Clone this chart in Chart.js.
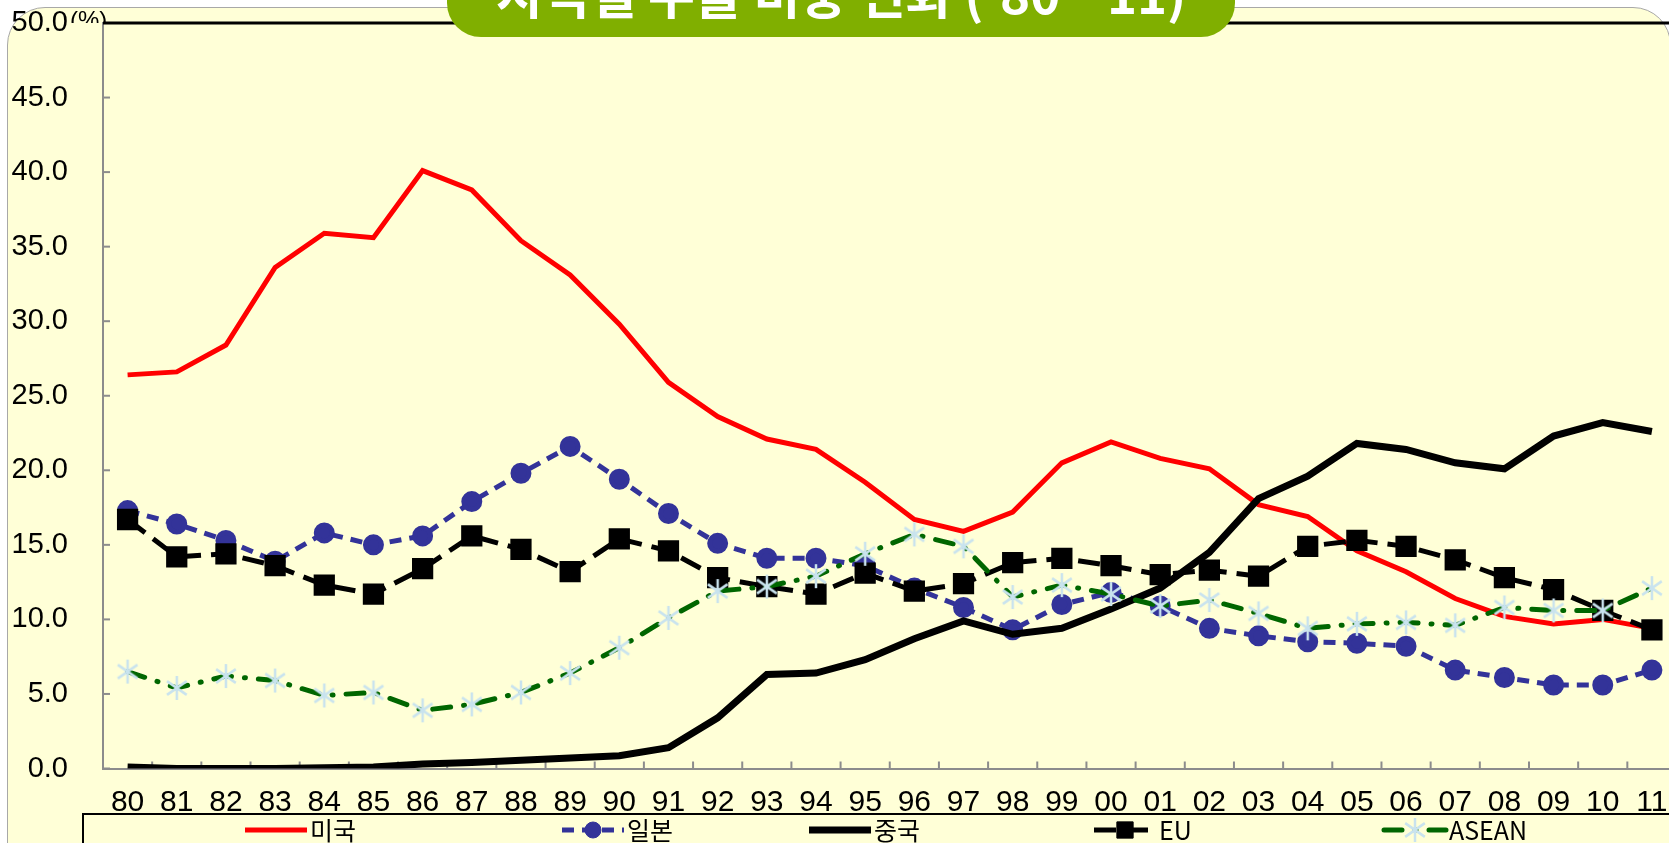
<!DOCTYPE html>
<html>
<head>
<meta charset="utf-8">
<script src="https://cdn.jsdelivr.net/npm/chart.js@4.4.1/dist/chart.umd.min.js"></script>
<style>
  html, body { margin: 0; padding: 0; background: #ffffff; width: 1669px; height: 843px; overflow: hidden; }
  #frame { position: absolute; left: 7px; top: 7px; width: 1664px; height: 900px; background: #FFFFD7;
           border: 1px solid #a8a8a8; border-radius: 38px; box-sizing: border-box; }
  #wrap { position: absolute; left: 0; top: 0; width: 1700px; height: 843px; }
  #badge { position: absolute; left: 447px; top: -60px; width: 788px; height: 97px; background: #80AF00;
           border-radius: 34px; overflow: hidden; }
  #badge span { position: absolute; left: 0; right: 0; top: 22px; text-align: center; color: #ffffff;
                font: bold 51px "Noto Sans CJK KR", sans-serif; line-height: 60px; white-space: nowrap; }
</style>
</head>
<body>
<div id="frame"></div>
<div id="wrap"><canvas id="exportChart" width="1700" height="843"></canvas></div>
<div id="badge"><span>지역별 수출 비중 변화 (‘80~‘11)</span></div>
<script>
// 지역별 수출 비중 (%), 1980 - 2011
const years = ['80','81','82','83','84','85','86','87','88','89','90','91','92','93','94','95',
               '96','97','98','99','00','01','02','03','04','05','06','07','08','09','10','11'];
const usa    = [26.4,26.6,28.4,33.6,35.9,35.6,40.1,38.8,35.4,33.1,29.8,25.9,23.6,22.1,21.4,19.2,
                16.7,15.9,17.2,20.5,21.9,20.8,20.1,17.7,16.9,14.6,13.2,11.4,10.2,9.7,10.0,9.4];
const japan  = [17.3,16.4,15.3,13.9,15.8,15.0,15.6,17.9,19.8,21.6,19.4,17.1,15.1,14.1,14.1,13.6,
                12.1,10.8,9.3,11.0,11.8,10.9,9.4,8.9,8.5,8.4,8.2,6.6,6.1,5.6,5.6,6.6];
const china  = [0.1,0.0,0.0,0.0,0.05,0.1,0.3,0.4,0.55,0.7,0.85,1.4,3.4,6.3,6.4,7.3,
                8.7,9.9,9.0,9.4,10.7,12.1,14.5,18.1,19.6,21.8,21.4,20.5,20.1,22.3,23.2,22.6];
const eu     = [16.7,14.2,14.4,13.6,12.3,11.7,13.4,15.6,14.7,13.2,15.4,14.6,12.8,12.2,11.7,13.1,
                11.9,12.4,13.8,14.1,13.6,13.0,13.3,12.9,14.9,15.3,14.9,14.0,12.8,12.0,10.6,9.3];
const asean  = [6.5,5.4,6.2,5.9,4.9,5.1,3.9,4.3,5.1,6.4,8.1,10.1,11.9,12.2,12.9,14.4,
                15.7,14.9,11.5,12.3,11.7,10.9,11.3,10.4,9.4,9.7,9.8,9.6,10.8,10.6,10.6,12.1];
const seriesNames = ['미국', '일본', '중국', 'EU', 'ASEAN'];
const yTicks = [0, 5, 10, 15, 20, 25, 30, 35, 40, 45, 50];

// asterisk marker like the spreadsheet one
function makeStar() {
  const c = document.createElement('canvas');
  c.width = 26; c.height = 26;
  const g = c.getContext('2d');
  g.strokeStyle = '#C9E3EE';
  g.lineWidth = 2.5;
  g.translate(13, 13);
  [0, 55, -55].forEach(function (deg) {
    const r = deg * Math.PI / 180;
    g.beginPath();
    g.moveTo(Math.sin(r) * 12, -Math.cos(r) * 12);
    g.lineTo(-Math.sin(r) * 12, Math.cos(r) * 12);
    g.stroke();
  });
  return c;
}
const star = makeStar();

const yFont = { family: '"Liberation Sans", Arial, sans-serif', size: 29 };
const xFont = { family: '"Liberation Sans Narrow", "Liberation Sans", Arial, sans-serif', size: 30 };

const framePlugin = {
  id: 'frame',
  beforeDatasetsDraw(chart) {
    const ctx = chart.ctx, a = chart.chartArea, x = chart.scales.x, y = chart.scales.y;
    ctx.save();
    ctx.strokeStyle = '#8c8c8c';
    ctx.lineWidth = 2;
    yTicks.forEach(function (v) {
      const py = y.getPixelForValue(v);
      ctx.beginPath(); ctx.moveTo(a.left, py); ctx.lineTo(a.left + 7, py); ctx.stroke();
    });
    const half = (x.getPixelForValue(1) - x.getPixelForValue(0)) / 2;
    for (let i = 0; i <= years.length; i++) {
      const px = x.getPixelForValue(i) - half;
      ctx.beginPath(); ctx.moveTo(px, a.bottom); ctx.lineTo(px, a.bottom - 7); ctx.stroke();
    }
    ctx.restore();
  },
  afterDraw(chart) {
    const ctx = chart.ctx, a = chart.chartArea;
    ctx.save();
    // unit label, partly hidden by the plot frame
    ctx.save();
    ctx.beginPath(); ctx.rect(0, 0, 200, a.top); ctx.clip();
    ctx.fillStyle = '#000';
    ctx.font = '24px "Liberation Sans", Arial, sans-serif';
    ctx.textBaseline = 'top';
    ctx.fillText('(%)', 70, 9);
    ctx.restore();
    // top frame line
    ctx.strokeStyle = '#000';
    ctx.lineWidth = 3;
    ctx.beginPath(); ctx.moveTo(a.left, a.top); ctx.lineTo(a.right, a.top); ctx.stroke();

    // legend box
    ctx.lineWidth = 2;
    ctx.beginPath(); ctx.moveTo(83, 900); ctx.lineTo(83, 814); ctx.lineTo(1700, 814); ctx.stroke();
    const xs = [245, 562, 809, 1094, 1384];
    const ly = 830;
    chart.data.datasets.forEach(function (ds, i) {
      const x0 = xs[i], len = 62;
      ctx.save();
      ctx.strokeStyle = ds.borderColor;
      ctx.lineWidth = ds.borderWidth;
      ctx.lineCap = ds.borderCapStyle || 'butt';
      ctx.setLineDash(ds.borderDash || []);
      ctx.beginPath(); ctx.moveTo(x0, ly); ctx.lineTo(x0 + len, ly); ctx.stroke();
      ctx.setLineDash([]);
      if (ds.pointRadius > 0) {
        ctx.fillStyle = ds.pointBackgroundColor;
        ctx.strokeStyle = ds.pointBorderColor;
        ctx.lineWidth = 1;
        Chart.helpers.drawPoint(ctx, { pointStyle: ds.pointStyle, radius: ds.pointRadius, rotation: 0, borderWidth: 1 }, x0 + len / 2, ly);
      }
      ctx.fillStyle = '#000';
      ctx.font = '25px "Noto Sans CJK KR", sans-serif';
      ctx.textBaseline = 'middle';
      ctx.fillText(ds.label, x0 + len + 3, ly);
      ctx.restore();
    });
    ctx.restore();
  }
};

new Chart(document.getElementById('exportChart'), {
  type: 'line',
  data: {
    labels: years,
    datasets: [
      { label: seriesNames[0], data: usa, borderColor: '#FF0000', borderWidth: 5, pointRadius: 0, order: 5 },
      { label: seriesNames[1], data: japan, borderColor: '#333399', borderWidth: 5, borderDash: [12, 8],
        pointStyle: 'circle', pointRadius: 8, pointBackgroundColor: '#333399', pointBorderColor: '#333399', order: 4 },
      { label: seriesNames[2], data: china, borderColor: '#000000', borderWidth: 7, pointRadius: 0, order: 3 },
      { label: seriesNames[3], data: eu, borderColor: '#000000', borderWidth: 5, borderDash: [22, 10],
        pointStyle: 'rect', pointRadius: 11.5, pointBackgroundColor: '#000000', pointBorderColor: '#000000', order: 2 },
      { label: seriesNames[4], data: asean, borderColor: '#006600', borderWidth: 5, borderDash: [18, 13, 1, 13],
        borderCapStyle: 'round', pointStyle: star, pointRadius: 13,
        pointBackgroundColor: '#C9E3EE', pointBorderColor: '#C9E3EE', order: 1 }
    ]
  },
  options: {
    responsive: false,
    animation: false,
    layout: { padding: { top: 23, right: 23.5, bottom: 0, left: 0 } },
    elements: { line: { tension: 0, fill: false }, point: { hoverRadius: 0 } },
    plugins: { legend: { display: false }, tooltip: { enabled: false } },
    scales: {
      x: {
        offset: true,
        grid: { display: false, drawTicks: false },
        border: { display: true, color: '#8c8c8c', width: 2 },
        ticks: { color: '#000', font: xFont, padding: 16, maxRotation: 0, autoSkip: false },
        afterFit(s) { s.height = 74.5; s.paddingLeft = 0; s.paddingRight = 0; }
      },
      y: {
        min: 0, max: 50,
        grid: { display: false, drawTicks: false },
        border: { display: true, color: '#8c8c8c', width: 2 },
        afterBuildTicks(s) { s.ticks = yTicks.map(function (v) { return { value: v }; }); },
        ticks: { color: '#000', font: yFont, padding: 35, callback: function (v) { return v.toFixed(1); } },
        afterFit(s) { s.width = 103; s.paddingTop = 0; s.paddingBottom = 0; }
      }
    }
  },
  plugins: [framePlugin]
});
</script>
</body>
</html>
